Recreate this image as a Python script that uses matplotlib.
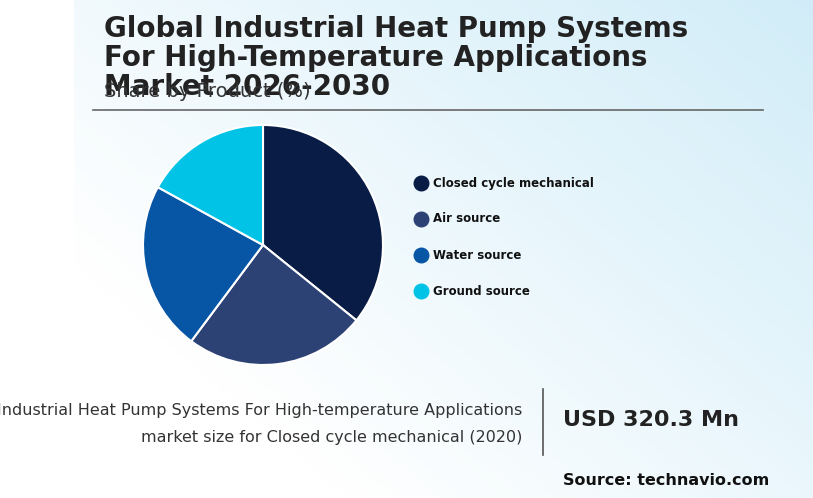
import matplotlib
matplotlib.use("Agg")
import matplotlib.pyplot as plt
import numpy as np

categories = ["Closed cycle mechanical", "Air source", "Water source", "Ground source"]
shares = [35.8, 24.4, 22.8, 17.0]
colors = ["#081c45", "#2c4275", "#0756a5", "#00c3e6"]

fig = plt.figure(figsize=(8.13, 4.98), dpi=100)
bg = fig.add_axes([0, 0, 1, 1])
bg.set_axis_off()
x = np.linspace(0, 1, 200)
y = np.linspace(0, 1, 200)
X, Y = np.meshgrid(x, y)
G = np.clip((X * 0.7 + (1 - Y) * 0.5) - 0.3, 0, 1)
c0 = np.array([1, 1, 1]); c1 = np.array([0.80, 0.92, 0.97])
img = c0[None, None, :] * (1 - G[..., None]) + c1[None, None, :] * G[..., None]
bg.imshow(img, extent=[0, 1, 0, 1], aspect="auto", origin="upper")
bg.add_patch(plt.Rectangle((0, 0), 73/813, 1, color="white", zorder=2))
bg.set_xlim(0, 1); bg.set_ylim(0, 1)

fig.text(104/813, 1-15/498, "Global Industrial Heat Pump Systems\nFor High-Temperature Applications\nMarket 2026-2030",
         fontsize=20, fontweight="bold", color="#222222", va="top", linespacing=1.05)
fig.text(104/813, 1-91/498, "Share by Product (%)", fontsize=14, color="#333333", va="center")
bg.plot([93/813, 763/813], [1-110/498]*2, color="#666666", lw=1.2, zorder=3)

ax = fig.add_axes([(263-120)/813, 1-(245+120)/498, 240/813, 240/498])
ax.pie(shares, colors=colors, startangle=90, counterclock=False,
       wedgeprops=dict(edgecolor="white", linewidth=1.5))
ax.set_xlim(-1, 1); ax.set_ylim(-1, 1)
ax.set_aspect("equal")

for i, (c, col) in enumerate(zip(categories, colors)):
    yy = 1 - (183 + 36*i)/498
    bg.scatter([421/813], [yy], s=110, color=col, zorder=4)
    fig.text(433/813, yy, c, fontsize=8.5, fontweight="bold", color="#111111", va="center")

fig.text(522/813, 1-410/498, "Industrial Heat Pump Systems For High-temperature Applications",
         fontsize=11.5, color="#333333", ha="right", va="center")
fig.text(522/813, 1-437/498, "market size for Closed cycle mechanical (2020)",
         fontsize=11.5, color="#333333", ha="right", va="center")
bg.plot([543/813]*2, [1-389/498, 1-455/498], color="#555555", lw=1.2, zorder=3)
fig.text(563/813, 1-420/498, "USD 320.3 Mn", fontsize=16, fontweight="bold", color="#222222", va="center")
fig.text(563/813, 1-480/498, "Source: technavio.com", fontsize=11.5, fontweight="bold", color="#111111", va="center")

fig.savefig("out.png", dpi=100)
